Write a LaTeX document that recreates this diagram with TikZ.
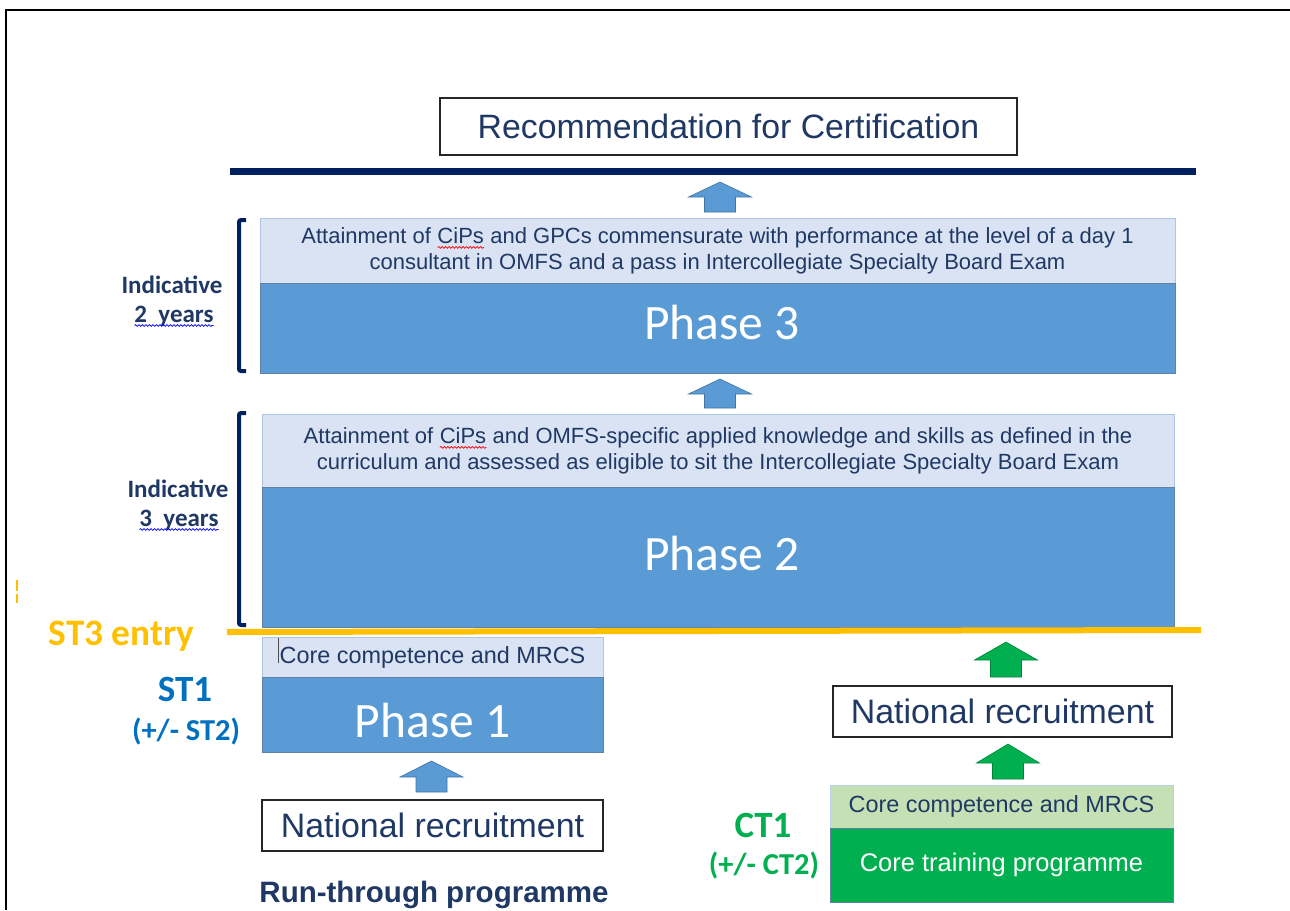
\documentclass[tikz,border=0pt]{standalone}
\usepackage{fontspec}
\setmainfont{Liberation Sans}
\newfontfamily\calfont{Carlito}
\usetikzlibrary{decorations.pathmorphing}

\definecolor{navytext}{RGB}{31,56,100}
\definecolor{navyline}{RGB}{0,32,96}
\definecolor{paleblue}{RGB}{218,227,243}
\definecolor{midblue}{RGB}{91,155,213}
\definecolor{edgeblue}{RGB}{120,160,205}
\definecolor{stblue}{RGB}{0,112,192}
\definecolor{entryyellow}{RGB}{255,192,0}
\definecolor{ctgreen}{RGB}{0,176,80}
\definecolor{palegreen}{RGB}{197,224,180}

% word with a wavy underline
\newcommand\spellmark[2]{\tikz[baseline=(sw.base)]{\node[inner sep=0pt,outer sep=0pt,
    minimum width=0pt,minimum height=0pt,draw=none,fill=none,anchor=base](sw) at (0,0) {#2};
  \draw[#1,line width=0.7pt,decorate,decoration={snake,amplitude=0.9pt,segment length=3.5pt}]
    ([yshift=-3.5pt]sw.base west)--([yshift=-3.5pt]sw.base east);}}

% upward block arrow: colour, centre x, tip y, head base y, foot y
\newcommand\blockup[5]{%
  \filldraw[fill=#1,draw=#1!75!black,line width=0.6pt]
    (#2-31.5,#4) -- (#2,#3) -- (#2+31.5,#4) -- (#2+15.5,#4) -- (#2+15.5,#5)
    -- (#2-15.5,#5) -- (#2-15.5,#4) -- cycle;}

\tikzset{
  whitebox/.style={draw=black!85,line width=1.3pt,fill=white,text=navytext,inner sep=0pt},
  paleblk/.style={fill=paleblue,draw=edgeblue!60,line width=0.6pt,inner sep=0pt,text=navytext,align=center},
  darkblk/.style={fill=midblue,draw=edgeblue!80!black,line width=0.6pt,inner sep=0pt},
  greenpale/.style={fill=palegreen,draw=edgeblue!50,line width=0.6pt,inner sep=0pt,text=navytext},
  greendark/.style={fill=ctgreen,draw=edgeblue!80!black,line width=0.6pt,inner sep=0pt,text=white},
  bracket/.style={draw=navyline,line width=4pt,rounded corners=2pt},
  sidelabel/.style={anchor=base,inner sep=0pt,font=\calfont\bfseries\fontsize{25}{28}\selectfont,text=navytext},
  phasetext/.style={anchor=base,inner sep=0pt,text=white,font=\calfont\fontsize{49.5}{52}\selectfont},
  smalltext/.style={font=\fontsize{22}{25.5}\selectfont},
}

\begin{document}
\begin{tikzpicture}[x=1pt,y=-1pt]
\useasboundingbox (0,0) rectangle (1290,910);

% page frame
\draw[line width=2.5pt] (6,910) -- (6,10) -- (1290,10);

% certification
\node[whitebox,minimum width=577,minimum height=57,font=\fontsize{33.8}{36}\selectfont] (rec) at (728.5,126.5) {Recommendation for Certification};
\draw[navyline,line width=7pt] (230,171) -- (1196,171);
\blockup{midblue}{720}{182}{197}{212}

% phase 3
\node[paleblk,smalltext,minimum width=915,minimum height=66] (p3top) at (717.5,251)
  {Attainment of \spellmark{red}{CiPs} and GPCs commensurate with performance at the level of a day 1\\consultant in OMFS and a pass in Intercollegiate Specialty Board Exam};
\node[darkblk,minimum width=915,minimum height=90] (p3) at (717.5,328) {};
\node[phasetext] (p3name) at (722,339) {Phase 3};
\blockup{midblue}{720}{379}{394}{408}

% phase 2
\node[paleblk,smalltext,minimum width=912,minimum height=74] (p2top) at (718,451)
  {Attainment of \spellmark{red}{CiPs} and OMFS-specific applied knowledge and skills as defined in the\\curriculum and assessed as eligible to sit the Intercollegiate Specialty Board Exam};
\node[darkblk,minimum width=912,minimum height=140] (p2) at (718,557) {};
\node[phasetext] (p2name) at (722,570) {Phase 2};

% duration brackets and labels
\draw[bracket] (246,220) -- (239,220) -- (239,371) -- (246,371);
\draw[bracket] (246,413) -- (239,413) -- (239,625) -- (246,625);
\node[sidelabel] (ind2) at (172,293) {Indicative};
\node[sidelabel] (yrs2) at (174,322) {\spellmark{blue}{2\ \ years}};
\node[sidelabel] (ind3) at (178,497) {Indicative};
\node[sidelabel] (yrs3) at (179,526) {\spellmark{blue}{3\ \ years}};

% ST3 entry
\draw[entryyellow,line width=2pt,dash pattern=on 11pt off 3pt] (17,580) -- (17,603);
\draw[entryyellow,line width=6pt] (227,632) -- (1201,630);
\node[anchor=base,inner sep=0pt,text=entryyellow,font=\calfont\bfseries\fontsize{37.3}{40}\selectfont] (st3) at (121.5,645) {ST3 entry};

% phase 1, run-through
\node[paleblk,minimum width=341,minimum height=40,font=\fontsize{23.4}{26}\selectfont] (p1top) at (432.5,657) {Core competence and MRCS};
\draw[black!70,line width=1pt] (278,638) -- (278,663);
\node[darkblk,minimum width=341,minimum height=75] (p1) at (432.5,714.5) {};
\node[phasetext] (p1name) at (432.5,737) {Phase 1};
\node[anchor=base,inner sep=0pt,text=stblue,font=\calfont\bfseries\fontsize{37}{40}\selectfont] (st1) at (185,701) {ST1};
\node[anchor=base,inner sep=0pt,text=stblue,font=\calfont\bfseries\fontsize{30.4}{32}\selectfont] (st2) at (186,740) {(+/- ST2)};
\blockup{midblue}{431.5}{761}{777}{792}
\node[whitebox,minimum width=341,minimum height=51,font=\fontsize{33.9}{36}\selectfont] (nrl) at (432.5,825.5) {National recruitment};
\node[anchor=base,inner sep=0pt,text=navytext,font=\bfseries\fontsize{29.5}{32}\selectfont] (run) at (434,902) {Run-through programme};

% core training route
\blockup{ctgreen}{1006}{642}{660}{677}
\node[whitebox,minimum width=339,minimum height=51,font=\fontsize{33.9}{36}\selectfont] (nrr) at (1002.5,711.5) {National recruitment};
\blockup{ctgreen}{1008}{744}{763}{779}
\node[greenpale,minimum width=343,minimum height=43,font=\fontsize{23.4}{26}\selectfont] (cttop) at (1001.5,806.5) {Core competence and MRCS};
\node[greendark,minimum width=343,minimum height=74,font=\fontsize{25.5}{28}\selectfont] (ct) at (1001.5,865) {Core training programme};
\node[anchor=base,inner sep=0pt,text=ctgreen,font=\calfont\bfseries\fontsize{37}{40}\selectfont] (ct1) at (763,837) {CT1};
\node[anchor=base,inner sep=0pt,text=ctgreen,font=\calfont\bfseries\fontsize{30.4}{32}\selectfont] (ct2) at (764,874) {(+/- CT2)};
\end{tikzpicture}
\end{document}
